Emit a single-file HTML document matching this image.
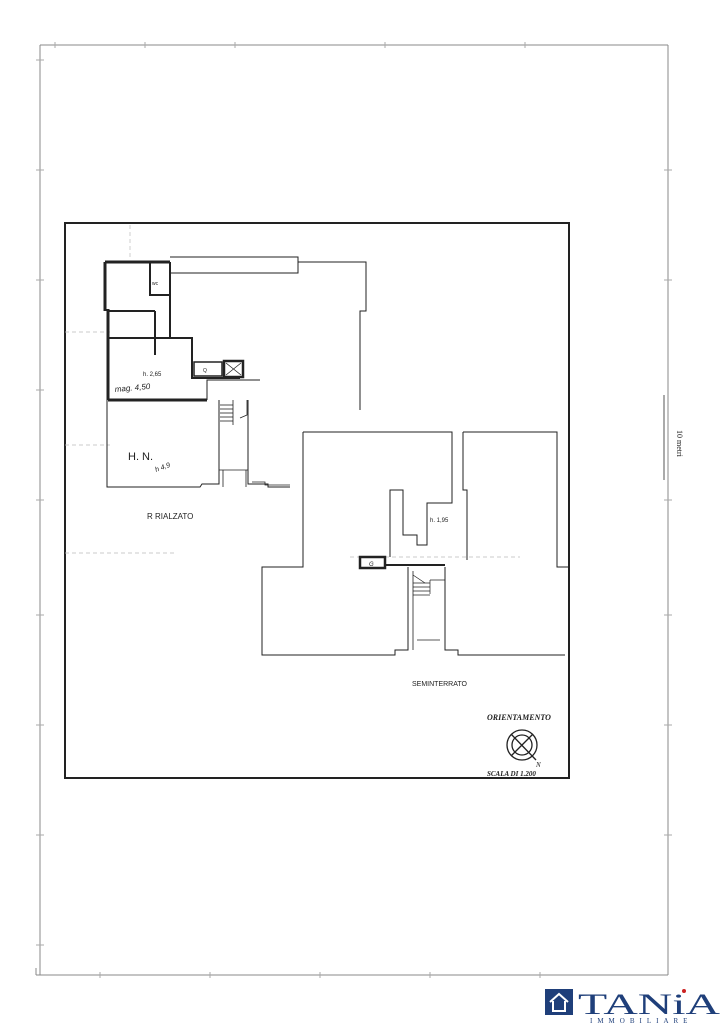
<!DOCTYPE html>
<html><head><style>
html,body{margin:0;padding:0;background:#fff;}
svg{display:block;}
text{font-family:"Liberation Sans",sans-serif;fill:#222;}
text.serif{font-family:"Liberation Serif",serif;}
</style></head><body>
<svg width="725" height="1024" viewBox="0 0 725 1024" xmlns="http://www.w3.org/2000/svg">
<g stroke="#888" stroke-width="1" fill="none">
<line x1="40" y1="45" x2="668" y2="45"/>
<line x1="40" y1="45" x2="40" y2="975"/>
<line x1="668" y1="45" x2="668" y2="975"/>
<line x1="36" y1="975" x2="668" y2="975"/>
<line x1="36" y1="968" x2="36" y2="975"/>
<g stroke="#aaa">
<line x1="55" y1="42" x2="55" y2="48"/><line x1="145" y1="42" x2="145" y2="48"/><line x1="235" y1="42" x2="235" y2="48"/><line x1="385" y1="42" x2="385" y2="48"/><line x1="525" y1="42" x2="525" y2="48"/>
<line x1="36" y1="60" x2="44" y2="60"/><line x1="36" y1="170" x2="44" y2="170"/><line x1="36" y1="280" x2="44" y2="280"/><line x1="36" y1="390" x2="44" y2="390"/><line x1="36" y1="500" x2="44" y2="500"/><line x1="36" y1="615" x2="44" y2="615"/><line x1="36" y1="725" x2="44" y2="725"/><line x1="36" y1="835" x2="44" y2="835"/><line x1="36" y1="945" x2="44" y2="945"/>
<line x1="664" y1="170" x2="672" y2="170"/><line x1="664" y1="280" x2="672" y2="280"/><line x1="664" y1="500" x2="672" y2="500"/><line x1="664" y1="615" x2="672" y2="615"/><line x1="664" y1="725" x2="672" y2="725"/><line x1="664" y1="835" x2="672" y2="835"/>
<line x1="100" y1="972" x2="100" y2="978"/><line x1="210" y1="972" x2="210" y2="978"/><line x1="320" y1="972" x2="320" y2="978"/><line x1="430" y1="972" x2="430" y2="978"/><line x1="540" y1="972" x2="540" y2="978"/>
</g>
<line x1="664" y1="395" x2="664" y2="480" stroke="#555"/>
</g>
<text class="serif" x="0" y="0" font-size="8" transform="translate(677,430) rotate(90)">10 metri</text>

<rect x="65" y="223" width="504" height="555" fill="none" stroke="#222" stroke-width="2"/>

<g stroke="#bbb" stroke-width="0.7" stroke-dasharray="4 3" fill="none">
<line x1="65" y1="332" x2="110" y2="332"/><line x1="65" y1="445" x2="110" y2="445"/><line x1="65" y1="553" x2="175" y2="553"/>
<line x1="350" y1="557" x2="520" y2="557"/><line x1="130" y1="225" x2="130" y2="258"/>
</g>

<!-- upper plan -->
<g stroke="#222" fill="none">
<path d="M105 262 H170 M105 262 V311 M108 309 V400 M108 400 H207" stroke-width="3"/>
<path d="M170 262 V337 M108 311 H155 M155 311 V355" stroke-width="2"/>
<path d="M108 338 H192 V378 H240 M150 262 V295 H170" stroke-width="2"/>
<rect x="194" y="362" width="28" height="14" stroke-width="1.5"/>
<rect x="224" y="361" width="19" height="16" stroke-width="2.5"/>
<path d="M226 363 L241 375 M241 363 L226 375" stroke-width="0.8"/>
<path d="M207 400 V380 H260" stroke-width="1"/>
<path d="M170 257 H298 V273 H170" stroke-width="1"/>
<path d="M298 262 H366 V311 H360 V410" stroke-width="1"/>
<path d="M107 400 V487 H200 L202 484 H219 V400 M248 400 V484 H268 V487 H290" stroke-width="1"/>
<g stroke-width="0.8">
<line x1="220" y1="405" x2="233" y2="405"/><line x1="220" y1="409" x2="233" y2="409"/><line x1="220" y1="413" x2="233" y2="413"/><line x1="220" y1="417" x2="233" y2="417"/><line x1="220" y1="421" x2="233" y2="421"/>
<path d="M233 400 V425 M247 400 V415 L240 418"/>
<line x1="219" y1="470" x2="248" y2="470"/><line x1="223" y1="470" x2="223" y2="487"/><line x1="246" y1="470" x2="246" y2="487"/>
</g>
</g>
<text x="152" y="285" font-size="5">wc</text>
<text x="203" y="372" font-size="5">Q</text>
<text x="143" y="376" font-size="6">h. 2,65</text>
<text x="115" y="392" font-size="8" font-style="italic" transform="rotate(-5 115 392)">mag. 4,50</text>
<text x="128" y="460" font-size="11">H. N.</text>
<text x="156" y="472" font-size="7" font-style="italic" transform="rotate(-20 156 472)">h 4,9</text>
<text x="147" y="519" font-size="8">R RIALZATO</text>

<!-- lower plan -->
<g stroke="#222" fill="none" stroke-width="1">
<path d="M303 432 H452 V503 H427 V545 H417 V535 H403 V490 H390 V557"/>
<path d="M303 432 V567 H262 V655 H395 V650 H408 V567"/>
<path d="M463 432 V490 H467 V560 M463 432 H557 V567 H568"/>
<path d="M445 567 V650 H458 V655 H565"/>
<rect x="360" y="557" width="25" height="11" stroke-width="2.5"/>
<path d="M385 565 H445" stroke-width="2"/>
<path d="M413 571 V650 M445 571 V650" stroke-width="0.8"/>
<g stroke-width="0.7">
<line x1="413" y1="583" x2="430" y2="583"/><line x1="413" y1="587" x2="430" y2="587"/><line x1="413" y1="591" x2="430" y2="591"/><line x1="413" y1="595" x2="430" y2="595"/>
<path d="M430 580 V594 M445 580 H430 M413 575 L425 583"/>
<line x1="417" y1="640" x2="440" y2="640"/>
</g>
<path d="M252 482 H265 V485 H290" stroke-width="0.8"/>
</g>
<text x="430" y="522" font-size="6">h. 1,95</text>
<text x="369" y="566" font-size="6" font-style="italic">G</text>
<text x="412" y="686" font-size="7">SEMINTERRATO</text>

<!-- orientation -->
<text class="serif" x="487" y="720" font-size="8" font-weight="bold" font-style="italic">ORIENTAMENTO</text>
<g stroke="#222" fill="none" stroke-width="1.3">
<circle cx="522" cy="745" r="15"/><circle cx="522" cy="745" r="10"/>
<line x1="511" y1="734" x2="536" y2="760"/><line x1="533" y1="734" x2="511" y2="756"/>
</g>
<text class="serif" x="536" y="767" font-size="7" font-style="italic">N</text>
<text class="serif" x="487" y="776" font-size="7" font-weight="bold" font-style="italic">SCALA DI 1.200</text>

<!-- logo -->
<rect x="545" y="989" width="28" height="26" fill="#1f3f7a"/>
<path d="M550 1002 L559 994 L568 1002 M553 1001 V1011 H565 V1001" stroke="#fff" stroke-width="2" fill="none"/>
<text class="serif" x="578" y="1014" font-size="30" style="fill:#1f3f7a" textLength="142" lengthAdjust="spacingAndGlyphs">TANiA</text>
<circle cx="684" cy="991" r="2" fill="#c22"/>
<text class="serif" x="590" y="1023" font-size="7" style="fill:#1f3f7a" letter-spacing="5">IMMOBILIARE</text>
</svg>
</body></html>
